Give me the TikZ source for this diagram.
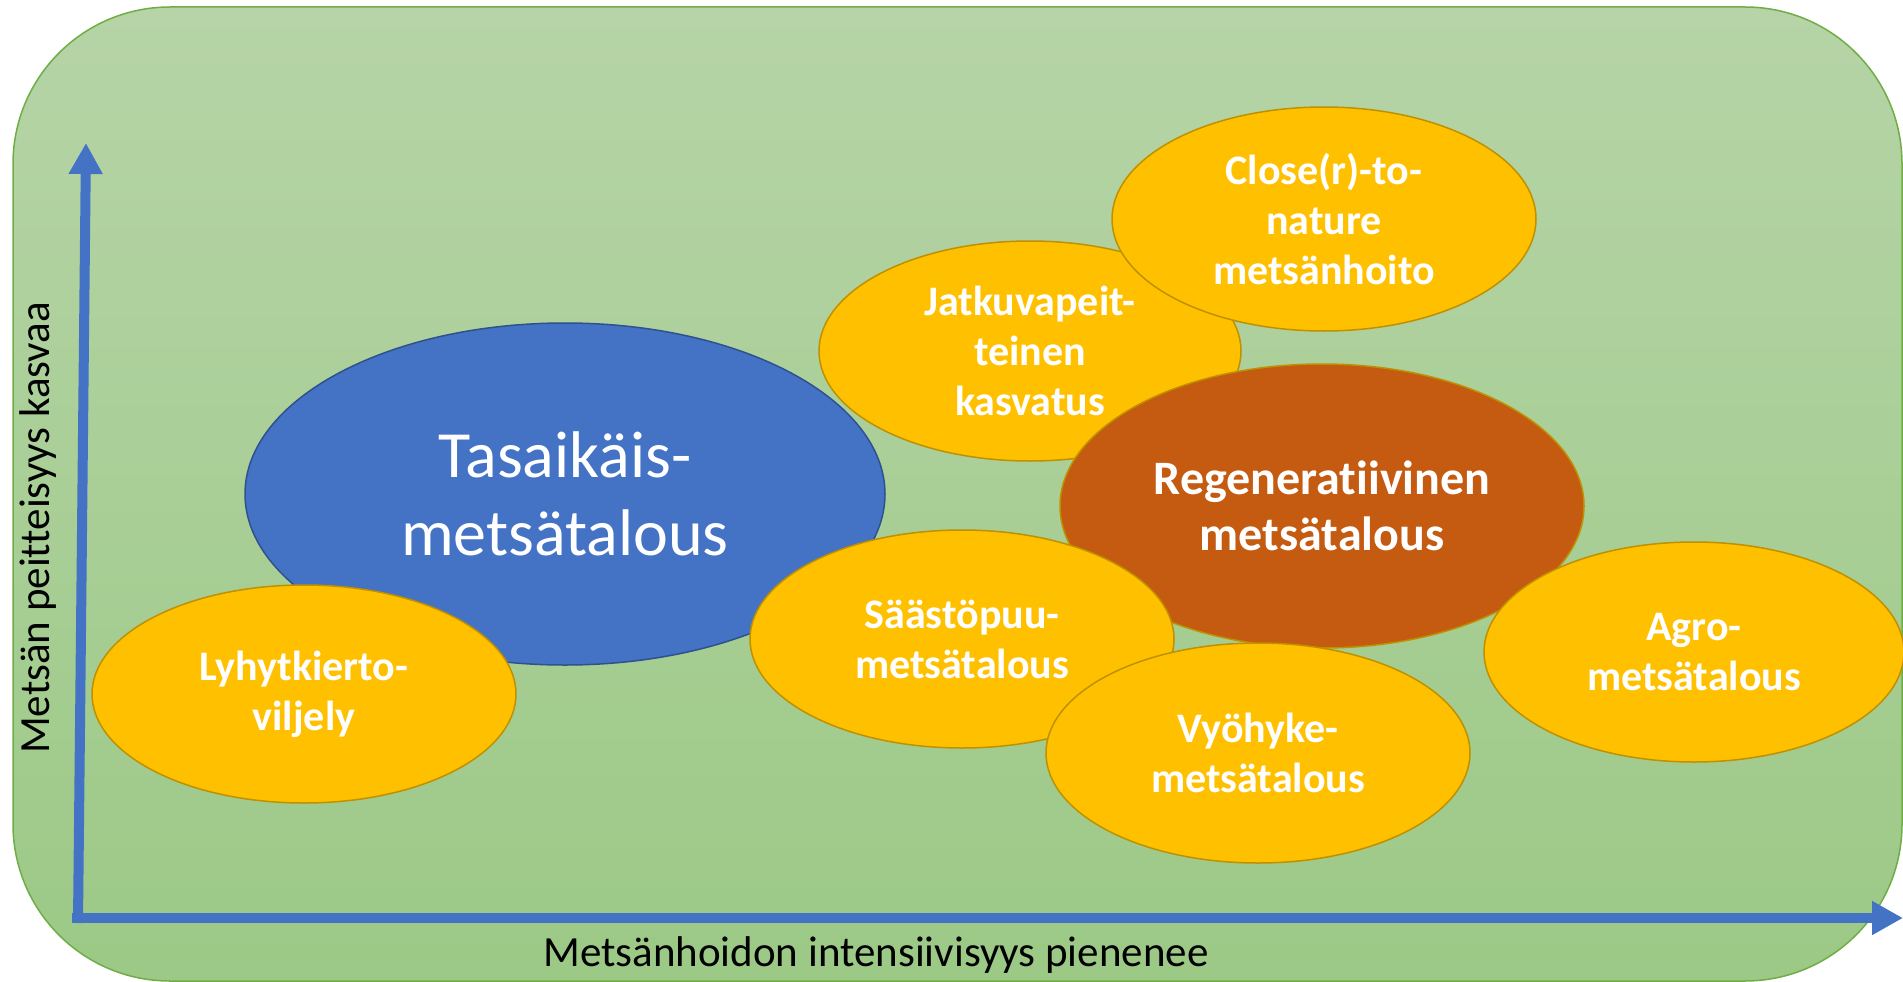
\documentclass[tikz,border=0pt]{standalone}
\usepackage{fontspec}
\setmainfont{Carlito}[Ligatures={NoCommon}]
\usetikzlibrary{shapes.geometric,arrows.meta}
\definecolor{bgtop}{HTML}{B6D4A7}
\definecolor{bgbot}{HTML}{9CC986}
\definecolor{bgline}{HTML}{70AD47}
\definecolor{axblue}{HTML}{4472C4}
\definecolor{blueline}{HTML}{2F528F}
\definecolor{gold}{HTML}{FFC000}
\definecolor{goldline}{HTML}{BF9000}
\definecolor{rust}{HTML}{C55A11}
\tikzset{
  blob/.style={ellipse, inner sep=0pt, line width=1.5pt, text=white, align=center},
  goldblob/.style={blob, fill=gold, draw=goldline, font=\bfseries\fontsize{42}{50}\selectfont},
  axis/.style={axblue, line width=10pt, -{Triangle[length=31pt,width=32pt]}},
  axlabel/.style={text=black, font=\fontsize{43}{52}\selectfont, inner sep=0pt}
}
\begin{document}
\begin{tikzpicture}[x=1pt,y=-1pt]
\useasboundingbox (0,0) rectangle (1903,982);
% background panel
\fill[top color=bgtop, bottom color=bgbot, rounded corners=157pt] (13,7) rectangle (1902,981);
\draw[bgline, line width=1.5pt, rounded corners=157pt] (13,7) rectangle (1902,981);
% ellipses
\node[blob, fill=axblue, draw=blueline, minimum width=640pt, minimum height=342pt,
      font=\fontsize{66}{78}\selectfont] (tasa) at (565,494) {Tasaikäis-\\metsätalous};
\node[goldblob, minimum width=424pt, minimum height=218pt] (lyhyt) at (304,694) {Lyhytkierto-\\viljely};
\node[goldblob, minimum width=422pt, minimum height=220pt] (jatku) at (1030,351) {Jatkuvapeit-\\teinen\\kasvatus};
\node[goldblob, minimum width=424pt, minimum height=224pt] (close) at (1324,219) {Close(r)-to-\\nature\\metsänhoito};
\node[blob, fill=rust, draw=goldline, minimum width=524pt, minimum height=284pt,
      font=\bfseries\fontsize{48}{56}\selectfont] (regen) at (1322,506) {Regeneratiivinen\\metsätalous};
\node[goldblob, minimum width=424pt, minimum height=218pt] (saasto) at (962,639) {Säästöpuu-\\metsätalous};
\node[goldblob, minimum width=424pt, minimum height=220pt] (vyo) at (1258,753) {Vyöhyke-\\metsätalous};
\node[goldblob, minimum width=420pt, minimum height=220pt] (agro) at (1694,652) {Agro-\\metsätalous};
% axes
\coordinate (origin) at (72,918);
\coordinate (ybase) at (78,923);
\coordinate (ytip) at (86,143);
\coordinate (xtip) at (1903,918);
\draw[axis] (ybase) -- (ytip);
\draw[axis] (origin) -- (xtip);
% axis labels
\node[axlabel, anchor=base] (xlab) at (876,966) {Metsänhoidon intensiivisyys pienenee};
\node[axlabel, anchor=base, rotate=90] (ylab) at (49,528) {Metsän peitteisyys kasvaa};
\end{tikzpicture}
\end{document}
